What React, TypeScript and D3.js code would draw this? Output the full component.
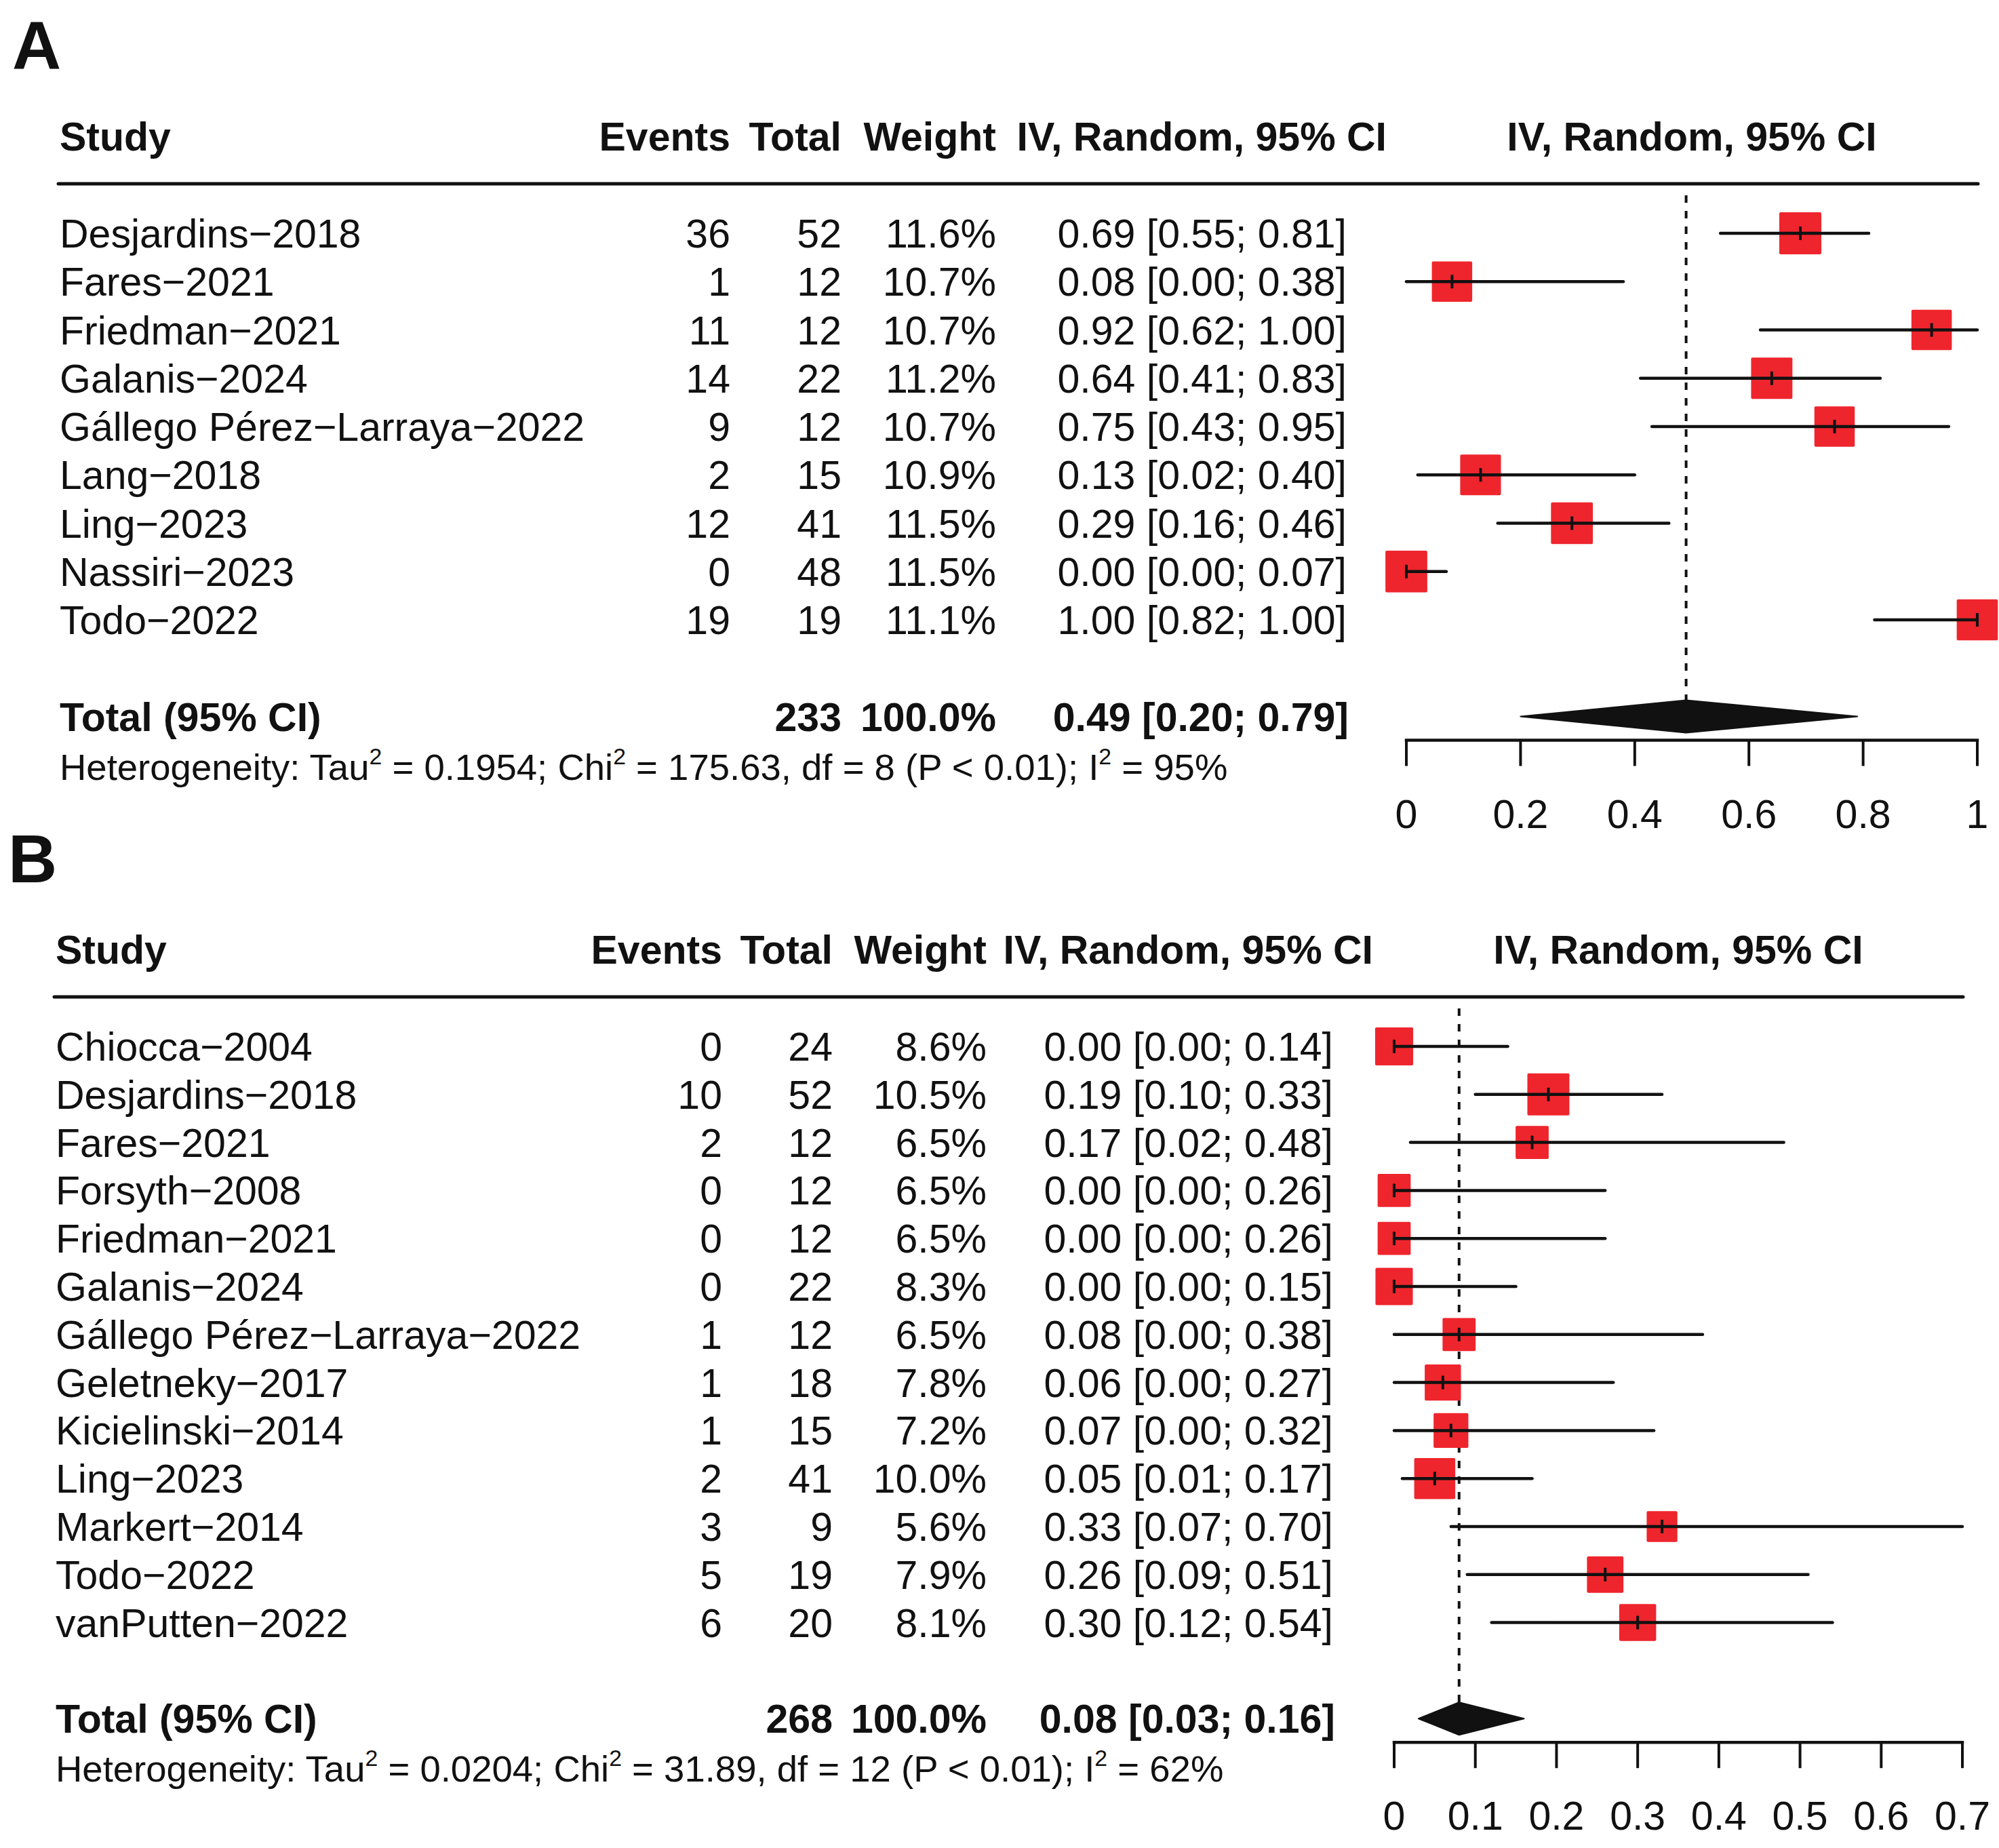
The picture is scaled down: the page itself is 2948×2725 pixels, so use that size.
import * as d3 from "d3";

const FONT = "'Liberation Sans', Arial, Helvetica, sans-serif";
const INK = "#111111";
const BOX = "#ee252d";

// Panel A
const studiesA = [
  "Desjardins−2018",
  "Fares−2021",
  "Friedman−2021",
  "Galanis−2024",
  "Gállego Pérez−Larraya−2022",
  "Lang−2018",
  "Ling−2023",
  "Nassiri−2023",
  "Todo−2022",
];
const eventsA = [36, 1, 11, 14, 9, 2, 12, 0, 19];
const totalsA = [52, 12, 12, 22, 12, 15, 41, 48, 19];
const weightsA = [11.6, 10.7, 10.7, 11.2, 10.7, 10.9, 11.5, 11.5, 11.1];
const estA = [0.69, 0.08, 0.92, 0.64, 0.75, 0.13, 0.29, 0.0, 1.0];
const lowerA = [0.55, 0.0, 0.62, 0.41, 0.43, 0.02, 0.16, 0.0, 0.82];
const upperA = [0.81, 0.38, 1.0, 0.83, 0.95, 0.4, 0.46, 0.07, 1.0];
const pooledA = [0.49, 0.2, 0.79];
const hetA = { tau2: "0.1954", chi2: "175.63", df: 8, p: "P < 0.01", i2: "95%" };
const ticksA = [0, 0.2, 0.4, 0.6, 0.8, 1];

// Panel B
const studiesB = [
  "Chiocca−2004",
  "Desjardins−2018",
  "Fares−2021",
  "Forsyth−2008",
  "Friedman−2021",
  "Galanis−2024",
  "Gállego Pérez−Larraya−2022",
  "Geletneky−2017",
  "Kicielinski−2014",
  "Ling−2023",
  "Markert−2014",
  "Todo−2022",
  "vanPutten−2022",
];
const eventsB = [0, 10, 2, 0, 0, 0, 1, 1, 1, 2, 3, 5, 6];
const totalsB = [24, 52, 12, 12, 12, 22, 12, 18, 15, 41, 9, 19, 20];
const weightsB = [8.6, 10.5, 6.5, 6.5, 6.5, 8.3, 6.5, 7.8, 7.2, 10.0, 5.6, 7.9, 8.1];
const estB = [0.0, 0.19, 0.17, 0.0, 0.0, 0.0, 0.08, 0.06, 0.07, 0.05, 0.33, 0.26, 0.3];
const lowerB = [0.0, 0.1, 0.02, 0.0, 0.0, 0.0, 0.0, 0.0, 0.0, 0.01, 0.07, 0.09, 0.12];
const upperB = [0.14, 0.33, 0.48, 0.26, 0.26, 0.15, 0.38, 0.27, 0.32, 0.17, 0.7, 0.51, 0.54];
const pooledB = [0.08, 0.03, 0.16];
const hetB = { tau2: "0.0204", chi2: "31.89", df: 12, p: "P < 0.01", i2: "62%" };
const ticksB = [0, 0.1, 0.2, 0.3, 0.4, 0.5, 0.6, 0.7];

const fmtCI = (e: number, l: number, u: number) =>
  `${e.toFixed(2)} [${l.toFixed(2)}; ${u.toFixed(2)}]`;

interface PanelProps {
  label: string;
  y0: number;
  rowStep: number;
  studies: string[];
  events: number[];
  totals: number[];
  weights: number[];
  est: number[];
  lower: number[];
  upper: number[];
  pooled: number[];
  het: { tau2: string; chi2: string; df: number; p: string; i2: string };
  ticks: number[];
  cols: {
    study: number;
    events: number;
    total: number;
    weight: number;
    ci: number;
    ciHead: number;
  };
  range: [number, number];
  domain: [number, number];
}

function Panel(p: PanelProps) {
  const x = d3.scaleLinear().domain(p.domain).range(p.range);
  const box = d3
    .scaleSqrt()
    .domain([0, d3.max(p.weights) || 1])
    .range([0, 62]);

  const firstRow = p.y0 + 344;
  const rowY = (i: number) => firstRow + i * p.rowStep;
  const totalY = rowY(p.studies.length + 1);
  const axisY = totalY + 35;
  const diamondH = 24;
  const fs = 59;
  const hs = 54.5;
  const sup = (s: string) => (
    <tspan fontSize={hs * 0.62} dy={-hs * 0.42}>
      {s}
    </tspan>
  );
  const down = (s: string) => <tspan dy={hs * 0.42}>{s}</tspan>;
  const mid = (p.range[0] + p.range[1]) / 2;

  return (
    <g fontFamily={FONT} fill={INK}>
      <text x={p.cols.study - 70} y={p.y0 + 102} fontSize={100} fontWeight="bold">
        {p.label}
      </text>

      {/* header */}
      <g fontSize={fs} fontWeight="bold">
        <text x={p.cols.study} y={p.y0 + 222}>Study</text>
        <text x={p.cols.events} y={p.y0 + 222} textAnchor="end">Events</text>
        <text x={p.cols.total} y={p.y0 + 222} textAnchor="end">Total</text>
        <text x={p.cols.weight} y={p.y0 + 222} textAnchor="end">Weight</text>
        <text x={p.cols.ciHead} y={p.y0 + 222} textAnchor="end">IV, Random, 95% CI</text>
        <text x={mid} y={p.y0 + 222} textAnchor="middle">IV, Random, 95% CI</text>
      </g>
      <line
        x1={p.cols.study - 2}
        x2={p.range[1] + 1}
        y1={p.y0 + 271}
        y2={p.y0 + 271}
        stroke={INK}
        strokeWidth={5}
        strokeLinecap="round"
      />

      {/* study rows */}
      <g fontSize={fs}>
        {p.studies.map((s, i) => (
          <g key={s}>
            <text x={p.cols.study} y={rowY(i) + 21}>{s}</text>
            <text x={p.cols.events} y={rowY(i) + 21} textAnchor="end">{p.events[i]}</text>
            <text x={p.cols.total} y={rowY(i) + 21} textAnchor="end">{p.totals[i]}</text>
            <text x={p.cols.weight} y={rowY(i) + 21} textAnchor="end">
              {p.weights[i].toFixed(1)}%
            </text>
            <text x={p.cols.ci} y={rowY(i) + 21} textAnchor="end">
              {fmtCI(p.est[i], p.lower[i], p.upper[i])}
            </text>
          </g>
        ))}
      </g>

      {/* reference line at pooled estimate */}
      <line
        x1={x(p.pooled[0])}
        x2={x(p.pooled[0])}
        y1={p.y0 + 288}
        y2={totalY - diamondH}
        stroke={INK}
        strokeWidth={4}
        strokeDasharray="11 12"
      />

      {/* boxes and CIs */}
      {p.studies.map((s, i) => {
        const side = box(p.weights[i]);
        const cy = rowY(i);
        return (
          <g key={s}>
            <rect
              x={x(p.est[i]) - side / 2}
              y={cy - side / 2}
              width={side}
              height={side}
              rx={2}
              fill={BOX}
            />
            <line
              x1={x(p.lower[i])}
              x2={x(p.upper[i])}
              y1={cy}
              y2={cy}
              stroke={INK}
              strokeWidth={4.5}
              strokeLinecap="round"
            />
            <line
              x1={x(p.est[i])}
              x2={x(p.est[i])}
              y1={cy - 10}
              y2={cy + 10}
              stroke={INK}
              strokeWidth={4}
            />
          </g>
        );
      })}

      {/* total row */}
      <g fontSize={fs} fontWeight="bold">
        <text x={p.cols.study} y={totalY + 21}>Total (95% CI)</text>
        <text x={p.cols.total} y={totalY + 21} textAnchor="end">{d3.sum(p.totals)}</text>
        <text x={p.cols.weight} y={totalY + 21} textAnchor="end">
          {d3.sum(p.weights) > 0 ? "100.0%" : ""}
        </text>
        <text x={p.cols.ci + 3} y={totalY + 21} textAnchor="end">
          {fmtCI(p.pooled[0], p.pooled[1], p.pooled[2])}
        </text>
      </g>
      <path
        d={`M${x(p.pooled[1])},${totalY} L${x(p.pooled[0])},${totalY - diamondH} L${x(
          p.pooled[2]
        )},${totalY} L${x(p.pooled[0])},${totalY + diamondH} Z`}
        fill={INK}
        stroke={INK}
        strokeWidth={2}
        strokeLinejoin="round"
      />

      {/* heterogeneity */}
      <text x={p.cols.study} y={totalY + 93} fontSize={hs}>
        Heterogeneity: Tau{sup("2")}
        {down(` = ${p.het.tau2}; Chi`)}
        {sup("2")}
        {down(` = ${p.het.chi2}, df = ${p.het.df} (${p.het.p}); I`)}
        {sup("2")}
        {down(` = ${p.het.i2}`)}
      </text>

      {/* axis */}
      <line
        x1={p.range[0]}
        x2={p.range[1]}
        y1={axisY}
        y2={axisY}
        stroke={INK}
        strokeWidth={4.5}
        strokeLinecap="square"
      />
      {p.ticks.map((t) => (
        <g key={t}>
          <line
            x1={x(t)}
            x2={x(t)}
            y1={axisY}
            y2={axisY + 38}
            stroke={INK}
            strokeWidth={4}
          />
          <text x={x(t)} y={axisY + 129} fontSize={fs} textAnchor="middle">
            {String(t)}
          </text>
        </g>
      ))}
    </g>
  );
}

export default function App() {
  return (
    <svg
      width={2948}
      height={2725}
      viewBox="0 0 2948 2725"
      style={{ position: "absolute", left: 0, top: 0, background: "#fff" }}
    >
      <rect width={2948} height={2725} fill="#fff" />
      <Panel
        label="A"
        y0={0}
        rowStep={71.25}
        studies={studiesA}
        events={eventsA}
        totals={totalsA}
        weights={weightsA}
        est={estA}
        lower={lowerA}
        upper={upperA}
        pooled={pooledA}
        het={hetA}
        ticks={ticksA}
        cols={{ study: 88, events: 1077, total: 1241, weight: 1469, ci: 1986, ciHead: 2045 }}
        range={[2074, 2916]}
        domain={[0, 1]}
      />
      <Panel
        label="B"
        y0={1199}
        rowStep={70.8}
        studies={studiesB}
        events={eventsB}
        totals={totalsB}
        weights={weightsB}
        est={estB}
        lower={lowerB}
        upper={upperB}
        pooled={pooledB}
        het={hetB}
        ticks={ticksB}
        cols={{ study: 82, events: 1065, total: 1228, weight: 1455, ci: 1966, ciHead: 2025 }}
        range={[2056, 2894]}
        domain={[0, 0.7]}
      />
    </svg>
  );
}
